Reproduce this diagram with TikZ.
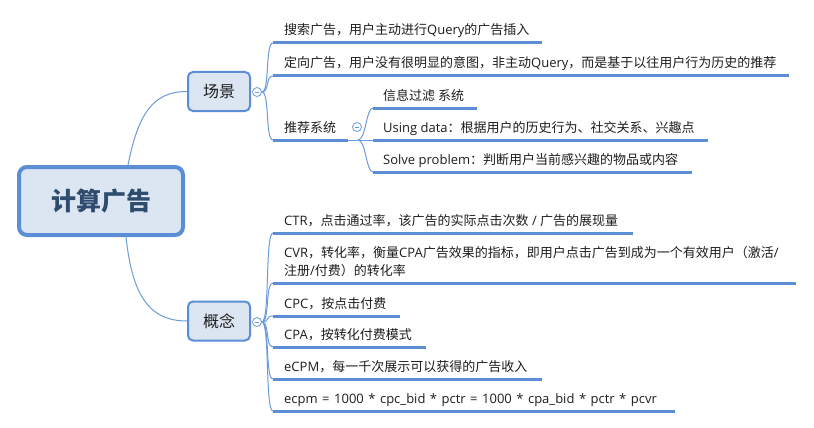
\documentclass[tikz,border=0pt]{standalone}
\usepackage{fontspec}
\newfontfamily\cjk{Noto Sans CJK SC}
\newfontfamily\lat{Open Sans}
\newcommand\EN[1]{{\lat #1}}
\definecolor{linec}{HTML}{6C9BD9}
\definecolor{ulc}{HTML}{5B8ED4}
\definecolor{boxfill}{HTML}{DCE6F2}
\definecolor{roottext}{HTML}{2F4B6E}
\definecolor{txtc}{HTML}{1E1E1E}
\tikzset{
  conn/.style={draw=linec, line width=1pt},
  uline/.style={draw=ulc, line width=3pt},
  leaf/.style={font=\cjk\fontsize{13}{18}\selectfont, text=txtc, anchor=base west, inner sep=0pt},
  rootbox/.style={draw=ulc, line width=4pt, fill=boxfill, rounded corners=8pt, minimum width=164pt, minimum height=68pt, inner sep=0pt, font=\cjk\bfseries\fontsize{25}{28}\selectfont, text=roottext},
  topicbox/.style={draw=ulc, line width=2pt, fill=boxfill, rounded corners=5pt, minimum width=62pt, minimum height=39pt, inner sep=0pt, font=\cjk\fontsize{16}{20}\selectfont, text=txtc},
  fold/.style={circle, draw=linec, line width=0.8pt, fill=white, minimum size=9pt, inner sep=0pt,
    path picture={\draw[linec, line width=0.8pt] ([xshift=2.2pt]path picture bounding box.west) -- ([xshift=-2.2pt]path picture bounding box.east);}}
}
\begin{document}
\begin{tikzpicture}[x=1pt,y=-1pt]
\useasboundingbox[fill=white] (0,0) rectangle (814,428);

% main topics
\node[rootbox] (root) at (101,201) {计算广告};
\node[topicbox] (scene) at (219,91.5) {场景};
\node[topicbox] (concept) at (219,321) {概念};

\draw[conn] ([xshift=27pt]root.north) .. controls +(10,-50) and +(-35,0) .. (scene.west);
\draw[conn] ([xshift=25pt]root.south) .. controls +(6,55) and +(-40,0) .. (concept.west);

% fold buttons
\node[fold] (f1) at (257,92) {};
\node[fold] (f3) at (257,322) {};

% scene leaves
\coordinate (a1) at (273,43);  \coordinate (a1e) at (542,43);
\coordinate (a2) at (273,76);  \coordinate (a2e) at (789,76);
\coordinate (a3) at (273,140); \coordinate (a3e) at (348,140);
\node[leaf] (ta1) at (284,35) {搜索广告，用户主动进行\EN{Query}的广告插入};
\node[leaf] (ta2) at (284,68) {定向广告，用户没有很明显的意图，非主动\EN{Query}，而是基于以往用户行为历史的推荐};
\node[leaf] (ta3) at (284,132) {推荐系统};
\foreach \a in {a1,a2,a3}{
  \draw[conn] (f1.east) .. controls +(8,0) and +(-8,0) .. (\a);
  \draw[uline] (\a) -- (\a e);
}
\node[fold] (f2) at (357,127) {};

% recommendation sub-leaves
\coordinate (bp) at (358,140);
\coordinate (b1) at (373,108); \coordinate (b1e) at (477,108);
\coordinate (b2) at (373,140); \coordinate (b2e) at (708,140);
\coordinate (b3) at (373,172); \coordinate (b3e) at (692,172);
\node[leaf] (tb1) at (383,100) {信息过滤 系统};
\node[leaf] (tb2) at (383,132) {\EN{Using data}：根据用户的历史行为、社交关系、兴趣点};
\node[leaf] (tb3) at (383,164) {\EN{Solve problem}：判断用户当前感兴趣的物品或内容};
\draw[conn] (a3e) -- (bp);
\foreach \b in {b1,b2,b3}{
  \draw[conn] (bp) .. controls +(8,0) and +(-7,0) .. (\b);
  \draw[uline] (\b) -- (\b e);
}

% concept leaves
\coordinate (c1) at (273,233); \coordinate (c1e) at (633,233);
\coordinate (c2) at (273,283); \coordinate (c2e) at (796,283);
\coordinate (c3) at (273,316); \coordinate (c3e) at (400,316);
\coordinate (c4) at (273,347); \coordinate (c4e) at (426,347);
\coordinate (c5) at (273,379); \coordinate (c5e) at (542,379);
\coordinate (c6) at (273,411); \coordinate (c6e) at (675,411);
\node[leaf] (tc1) at (284,225) {\EN{CTR}，点击通过率，该广告的实际点击次数\EN{ / }广告的展现量};
\node[leaf] (tc2a) at (284,257) {\EN{CVR}，转化率，衡量\EN{CPA}广告效果的指标，即用户点击广告到成为一个有效用户（激活\EN{/}};
\node[leaf] (tc2b) at (284,275) {注册\EN{/}付费）的转化率};
\node[leaf] (tc3) at (284,308) {\EN{CPC}，按点击付费};
\node[leaf] (tc4) at (284,339) {\EN{CPA}，按转化付费模式};
\node[leaf] (tc5) at (284,371) {\EN{eCPM}，每一千次展示可以获得的广告收入};
\node[leaf] (tc6) at (284,403) {\EN{\spaceskip=4.5pt ecpm = 1000 * cpc\_bid * pctr = 1000 * cpa\_bid * pctr * pcvr}};
\foreach \c in {c1,c2,c3,c4,c5,c6}{
  \draw[conn] (f3.east) .. controls +(8,0) and +(-8,0) .. (\c);
  \draw[uline] (\c) -- (\c e);
}
\end{tikzpicture}
\end{document}
